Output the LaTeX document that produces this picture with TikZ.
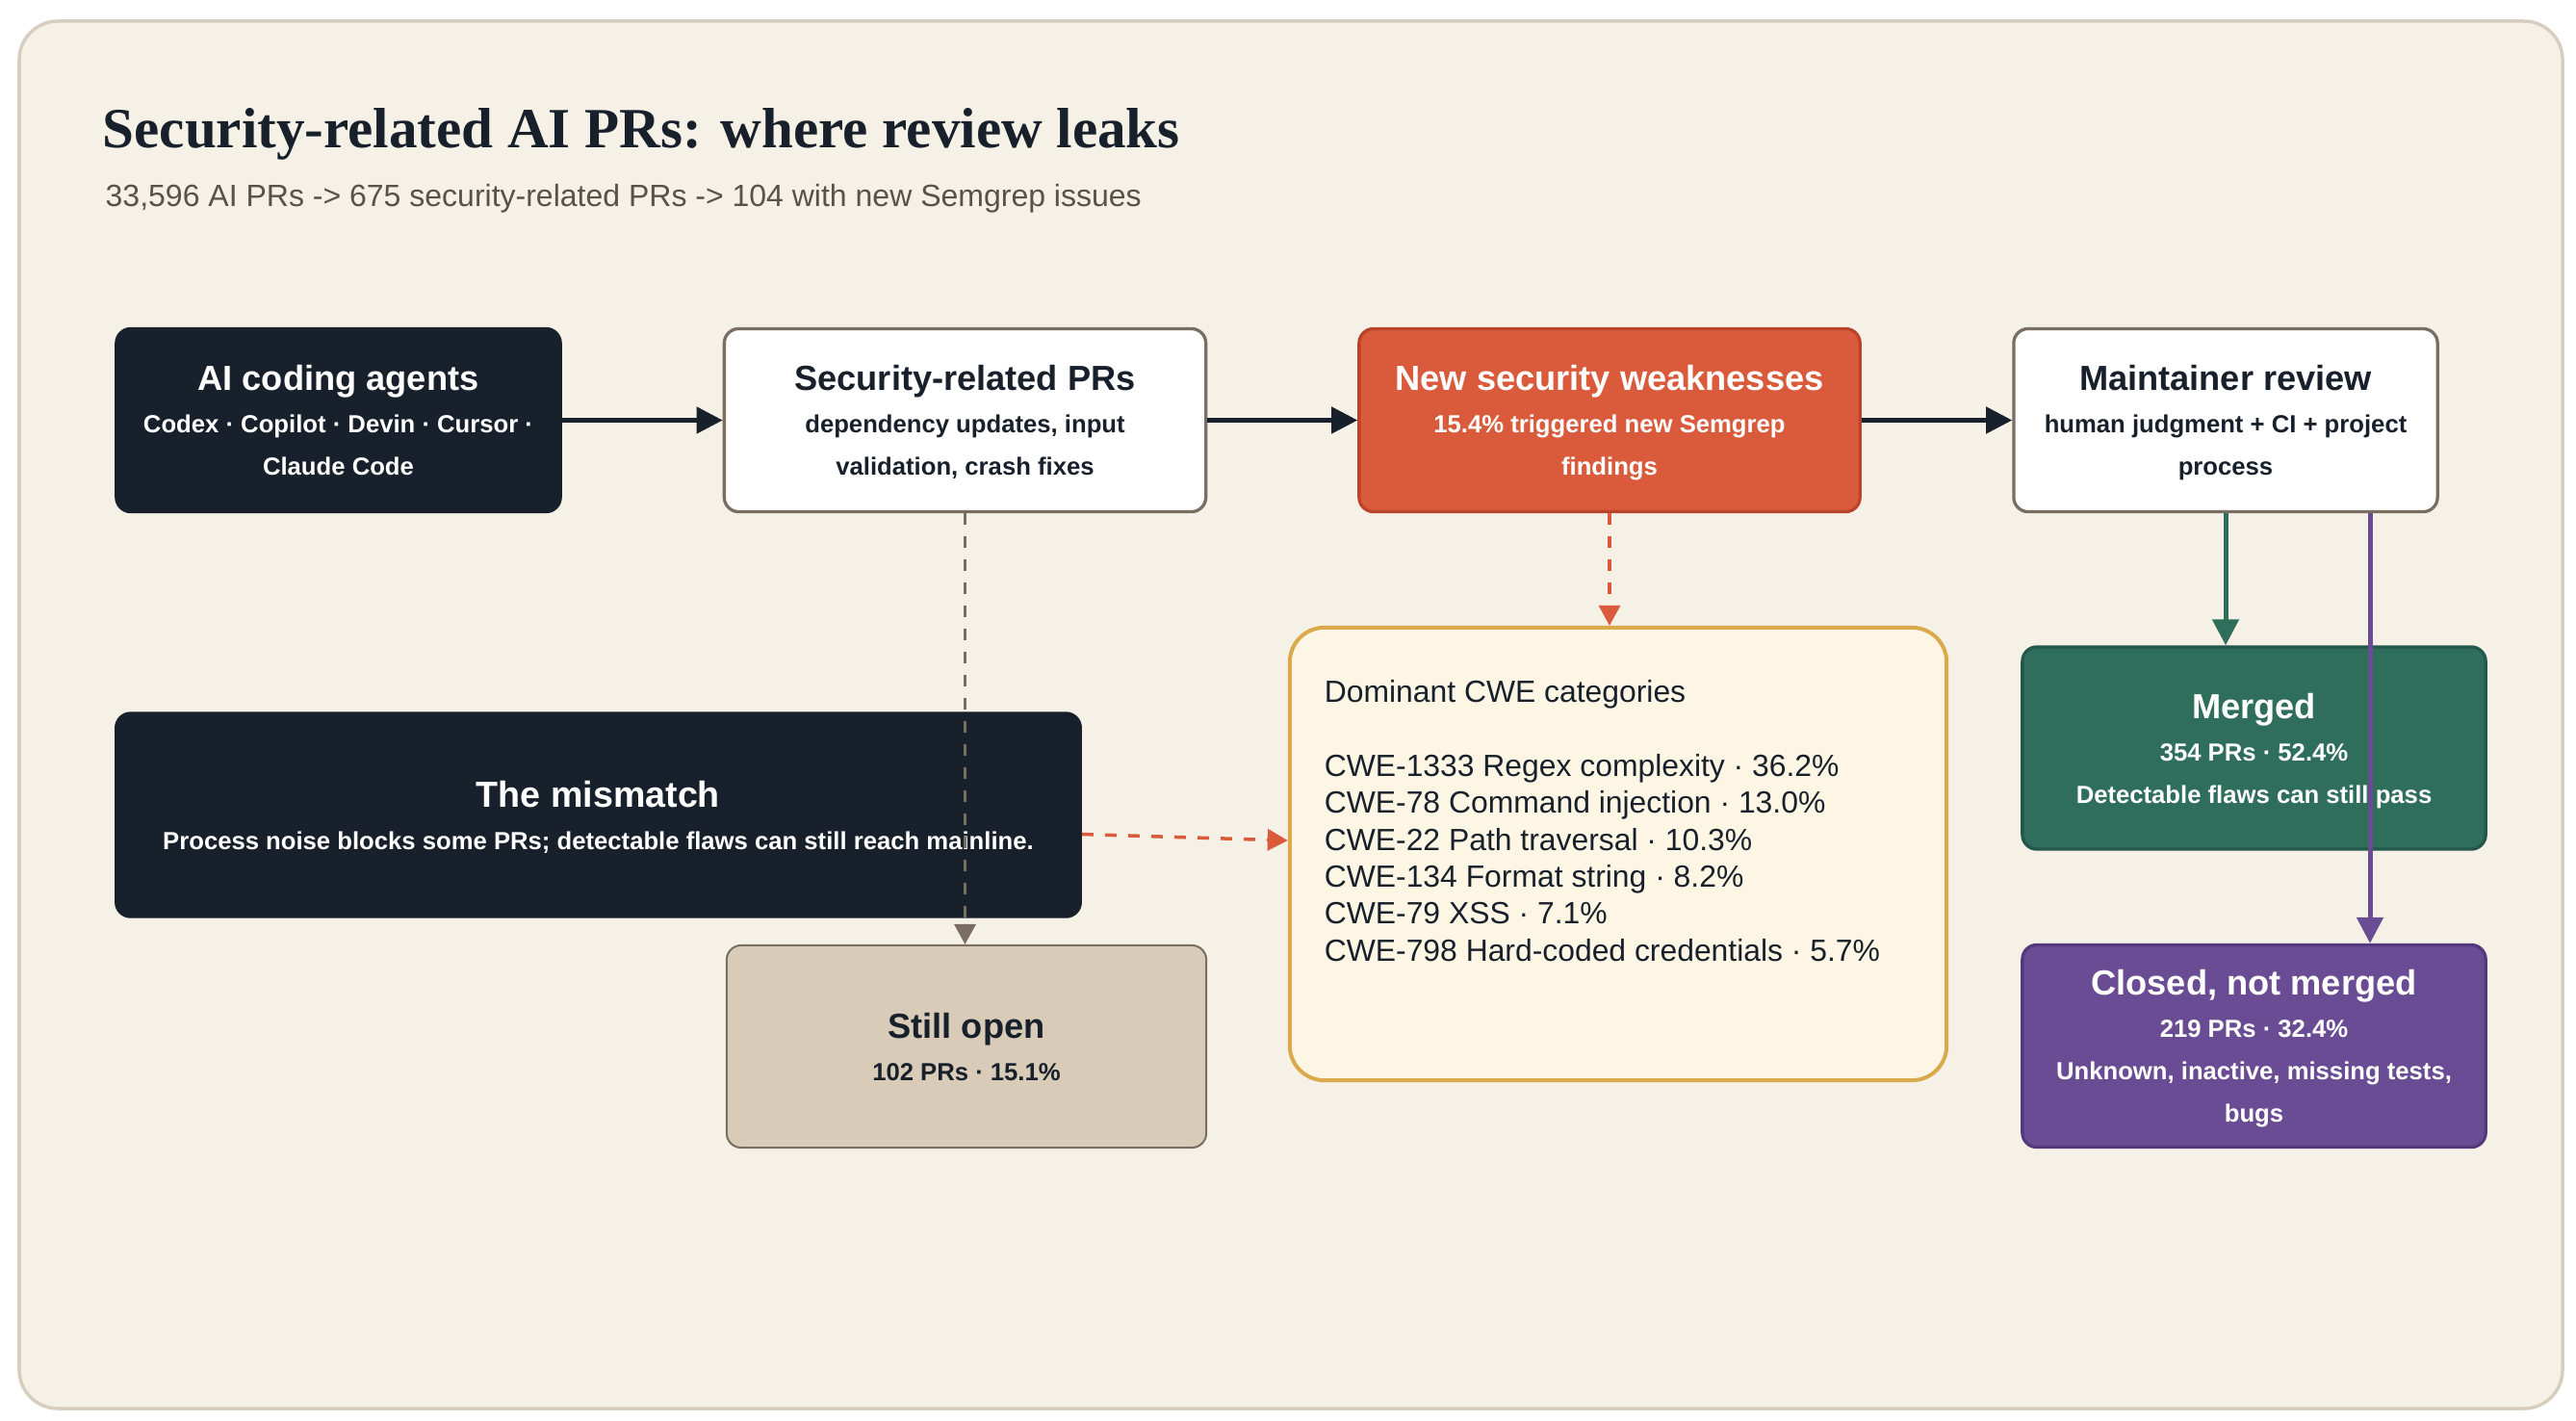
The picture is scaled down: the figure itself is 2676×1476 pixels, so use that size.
\documentclass[tikz,border=0pt]{standalone}
\usepackage{fontspec}
\setmainfont{Liberation Sans}
\newfontfamily\headserif{Liberation Serif}
\usepackage{tikz}
\usetikzlibrary{arrows.meta,positioning,calc}
\definecolor{inkblue}{HTML}{18212B}
\definecolor{paper}{HTML}{F6F1E7}
\definecolor{paperedge}{HTML}{D8CEC0}
\definecolor{taupe}{HTML}{7A6E62}
\definecolor{weakred}{HTML}{D95B3B}
\definecolor{weakedge}{HTML}{B8442B}
\definecolor{sand}{HTML}{D8CCB8}
\definecolor{cream}{HTML}{FDF6E4}
\definecolor{gold}{HTML}{D9A94B}
\definecolor{mergegreen}{HTML}{2E6E5A}
\definecolor{mergeedge}{HTML}{23584A}
\definecolor{closedpurple}{HTML}{694C93}
\definecolor{closededge}{HTML}{55397C}
\definecolor{subgray}{HTML}{5A5147}
\newcommand{\boxhead}[1]{{\fontsize{10.3}{12.5}\selectfont #1}}
\tikzset{
  card/.style={draw,rounded corners=0.15cm,align=center,line width=0.033cm,
    minimum height=1.9cm,inner sep=0pt,text depth=-1.8pt,
    font=\fontsize{7.3}{12.5}\selectfont\bfseries},
  darkcard/.style={card,draw=inkblue,fill=inkblue,text=white},
  whitecard/.style={card,draw=taupe,fill=white,text=inkblue},
  weakcard/.style={card,draw=weakedge,fill=weakred,text=white},
  opencard/.style={card,draw=taupe,fill=sand,text=inkblue,line width=0.02cm},
  mergecard/.style={card,draw=mergeedge,fill=mergegreen,text=white},
  closedcard/.style={card,draw=closededge,fill=closedpurple,text=white},
  cwecard/.style={draw=gold,fill=cream,rounded corners=0.36cm,line width=0.04cm,
    inner sep=0pt,text=inkblue},
  flow/.style={-{Triangle[length=0.27cm,width=0.27cm]},line width=0.045cm},
  leak/.style={-{Triangle[length=0.21cm,width=0.22cm]},line width=0.035cm,
    dash pattern=on 0.12cm off 0.12cm}
}

\begin{document}
\begin{tikzpicture}[x=0.01cm,y=-0.01cm]
  \useasboundingbox (0,0) rectangle (2676,1476);
  % Panel
  \fill[white] (0,0) rectangle (2676,1476);
  \draw[paperedge,fill=paper,line width=0.035cm,rounded corners=0.4cm]
    (20,22) rectangle (2662,1463);

  % Heading
  \node[anchor=base west,inner sep=0pt,text=inkblue,
    font=\headserif\bfseries\fontsize{16.8}{20}\selectfont] (title) at (106,154)
    {Security-related AI PRs: where review leaks};
  \node[anchor=base west,inner sep=0pt,text=subgray,font=\fontsize{9.1}{11}\selectfont]
    (subtitle) at (109,215)
    {33,596 AI PRs -> 675 security-related PRs -> 104 with new Semgrep issues};

  % Pipeline row
  \node[darkcard,minimum width=4.61cm] (agents) at (351.5,436.5)
    {\boxhead{AI coding agents}\\Codex · Copilot · Devin · Cursor ·\\Claude Code};
  \node[whitecard,minimum width=5.0cm] (secprs) at (1002.5,436.5)
    {\boxhead{Security-related PRs}\\dependency updates, input\\validation, crash fixes};
  \node[weakcard,minimum width=5.2cm] (weak) at (1672,436.5)
    {\boxhead{New security weaknesses}\\15.4\% triggered new Semgrep\\findings};
  \node[whitecard,minimum width=4.4cm] (review) at (2312,436.5)
    {\boxhead{Maintainer review}\\human judgment + CI + project\\process};

  % Outcomes
  \node[darkcard,minimum width=10.01cm,minimum height=2.11cm] (mismatch) at (621.5,846.5)
    {{\fontsize{10.7}{12.5}\selectfont The mismatch}\\Process noise blocks some PRs; detectable flaws can still reach mainline.};
  \node[opencard,minimum width=4.98cm,minimum height=2.1cm] (stillopen) at (1004,1087)
    {\boxhead{Still open}\\102 PRs · 15.1\%};
  \node[cwecard,minimum width=6.82cm,minimum height=4.7cm] (cwe) at (1681,887)
    {\parbox[c][3.6cm][t]{6.1cm}{\raggedright\fontsize{9.06}{10.9}\selectfont
      Dominant CWE categories\\[10.9pt]
      CWE-1333 Regex complexity · 36.2\%\\
      CWE-78 Command injection · 13.0\%\\
      CWE-22 Path traversal · 10.3\%\\
      CWE-134 Format string · 8.2\%\\
      CWE-79 XSS · 7.1\%\\
      CWE-798 Hard-coded credentials · 5.7\%}};
  \node[mergecard,minimum width=4.81cm,minimum height=2.1cm] (merged) at (2341.5,777)
    {\boxhead{Merged}\\354 PRs · 52.4\%\\Detectable flaws can still pass};
  \node[closedcard,minimum width=4.81cm,minimum height=2.1cm] (closed) at (2341.5,1086.5)
    {\boxhead{Closed, not merged}\\219 PRs · 32.4\%\\Unknown, inactive, missing tests,\\bugs};

  % Main flow
  \draw[flow,inkblue] (agents) -- (secprs);
  \draw[flow,inkblue] (secprs) -- (weak);
  \draw[flow,inkblue] (weak) -- (review);

  % Side links
  \draw[leak,taupe] (secprs.south) -- (secprs.south |- stillopen.north);
  \draw[leak,weakred] (weak.south) -- (weak.south |- cwe.north);
  \draw[leak,weakred] ($(mismatch.east)+(0,20)$) -- ($(cwe.west)+(0,-14)$);
  \draw[flow,mergegreen,line width=0.05cm] (review.south) -- (review.south |- merged.north);
  \coordinate (rejectstart) at ($(review.south)+(150,0)$);
  \draw[flow,closedpurple,line width=0.05cm] (rejectstart) -- (rejectstart |- closed.north);
\end{tikzpicture}
\end{document}
